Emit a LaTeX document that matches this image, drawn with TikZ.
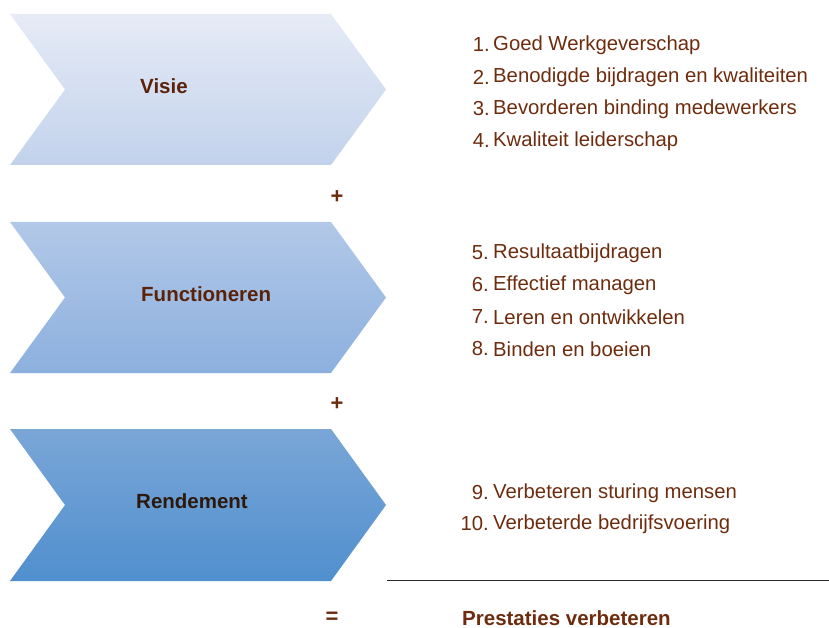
\documentclass[tikz,border=0pt]{standalone}
\usepackage{fontspec}
\setmainfont{Liberation Sans}
\definecolor{bruin}{HTML}{6E2C0E}
\definecolor{donker}{HTML}{5A2208}
\tikzset{
    pijl/.style={draw=none},
    kop/.style={anchor=west,font=\bfseries\fontsize{20.5}{24}\selectfont,text=donker,inner sep=0pt},
    punt/.style={anchor=west,font=\fontsize{20.3}{24}\selectfont,text=bruin,inner sep=0pt},
    nr/.style={anchor=east,font=\fontsize{20.3}{24}\selectfont,text=bruin,inner sep=0pt},
    teken/.style={font=\bfseries\fontsize{22}{24}\selectfont,text=bruin,inner sep=0pt}
}
\begin{document}
\begin{tikzpicture}[x=1pt,y=-1pt]
            \useasboundingbox (0,0) rectangle (829,628);

            \begin{scope}[pijl]
                \shade[top color={rgb,255:red,230;green,235;blue,246},bottom color={rgb,255:red,194;green,210;blue,236}]
                    (10,14) -- (331,14) -- (386,89.5) -- (331,165) -- (10,165) -- (65,89.5) -- cycle;
                \shade[top color={rgb,255:red,178;green,200;blue,232},bottom color={rgb,255:red,140;green,176;blue,222}]
                    (10,222) -- (331,222) -- (386,297.5) -- (331,373) -- (10,373) -- (65,297.5) -- cycle;
                \shade[top color={rgb,255:red,122;green,166;blue,215},bottom color={rgb,255:red,80;green,143;blue,206}]
                    (10,429) -- (331,429) -- (386,505) -- (331,581) -- (10,581) -- (65,505) -- cycle;
            \end{scope}

            \begin{scope}
                \node[kop] (visie) at (140,86) {Visie};
                \node[kop] (functioneren) at (141,294) {Functioneren};
                \node[kop,text={rgb,255:red,45;green,25;blue,12}] (rendement) at (136,501) {Rendement};
            \end{scope}

            \begin{scope}
                \node[nr] (n1) at (490,45) {1.};
                \node[nr] (n2) at (490,77) {2.};
                \node[nr] (n3) at (490,109) {3.};
                \node[nr] (n4) at (490,141) {4.};
                \node[punt] (p1) at (493,45) {Goed Werkgeverschap};
                \node[punt] (p2) at (493,77) {Benodigde bijdragen en kwaliteiten};
                \node[punt] (p3) at (493,109) {Bevorderen binding medewerkers};
                \node[punt] (p4) at (493,141) {Kwaliteit leiderschap};

                \node[nr] (n5) at (489,253) {5.};
                \node[nr] (n6) at (489,285) {6.};
                \node[nr] (n7) at (489,317) {7.};
                \node[nr] (n8) at (489,349) {8.};
                \node[punt] (p5) at (493,253) {Resultaatbijdragen};
                \node[punt] (p6) at (493,285) {Effectief managen};
                \node[punt] (p7) at (493,317) {Leren en ontwikkelen};
                \node[punt] (p8) at (493,349) {Binden en boeien};

                \node[nr] (n9) at (489,493) {9.};
                \node[nr] (n10) at (489,524) {10.};
                \node[punt] (p9) at (493,493) {Verbeteren sturing mensen};
                \node[punt] (p10) at (493,524) {Verbeterde bedrijfsvoering};
            \end{scope}

            \begin{scope}
                \node[teken] (plus1) at (337,197) {+};
                \node[teken] (plus2) at (337,404) {+};
                \node[teken] (is) at (332,618) {=};
                \node[kop,text=bruin] (prestaties) at (462,618) {Prestaties verbeteren};
                \coordinate (lijnA) at (387,580.5);
                \coordinate (lijnB) at (829,580.5);
                \draw[line width=1.5pt,draw={rgb,255:red,40;green,40;blue,40}] (lijnA) -- (lijnB);
            \end{scope}
            \end{tikzpicture}
\end{document}
